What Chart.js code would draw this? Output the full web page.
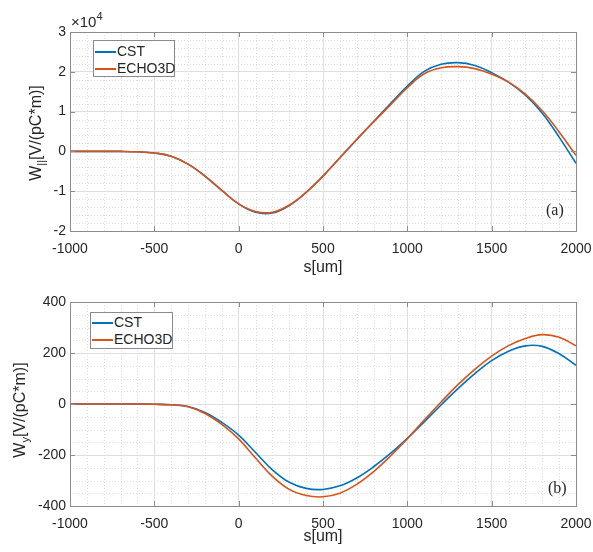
<!DOCTYPE html>
<html>
<head>
<meta charset="utf-8">
<script src="https://cdn.jsdelivr.net/npm/chart.js@4.4.0/dist/chart.umd.min.js"></script>
<style>
  body { margin: 0; background: #fff; }
  #wrap { position: relative; width: 593px; height: 552px; font-family: "Liberation Sans", Arial, sans-serif; color: #262626; }
  .panel { position: absolute; left: 0; width: 593px; height: 276px; }
  .ytitle { position: absolute; font-size: 16px; white-space: nowrap; transform: translate(-50%, -50%) rotate(-90deg); }
  .ytitle sub { font-size: 11px; vertical-align: -4px; }
  .xtitle { position: absolute; font-size: 16px; transform: translate(-50%, -50%); }
  .tag { position: absolute; font-family: "Liberation Serif", "Times New Roman", serif; font-size: 16px; }
  .expo { position: absolute; font-size: 15px; }
  .expo sup { font-size: 11px; vertical-align: 7px; }
  .legend { position: absolute; background: #fff; border: 1px solid #8a8a8a; font-size: 14px; }
  .legend .row { position: absolute; left: 1px; height: 16px; line-height: 16px; white-space: nowrap; }
  .legend .sw { display: inline-block; width: 21px; height: 2px; vertical-align: middle; margin-right: 1px; }
</style>
</head>
<body>
<div id="wrap">
  <div class="panel" style="top:0"><canvas id="chartTop" width="593" height="276"></canvas></div>
  <div class="panel" style="top:276px"><canvas id="chartBottom" width="593" height="276"></canvas></div>

  <div class="expo" style="left:71px;top:10px">&times;10<sup>4</sup></div>
  <div class="ytitle" style="left:37px;top:133px">W<sub>||</sub>[V/(pC*m)]</div>
  <div class="ytitle" style="left:21px;top:410px">W<sub>y</sub>[V/(pC*m)]</div>
  <div class="xtitle" style="left:323px;top:267px">s[um]</div>
  <div class="xtitle" style="left:323px;top:536px">s[um]</div>
  <div class="tag" style="left:546px;top:201px">(a)</div>
  <div class="tag" style="left:548px;top:479px">(b)</div>
  <div class="legend" id="legTop" style="left:93px;top:40px;width:80px;height:35px"></div>
  <div class="legend" id="legBottom" style="left:90px;top:312px;width:81px;height:35px"></div>
</div>

<script>
// s positions (um), shared by both panels
const sUm = [-1000, -900, -800, -700, -600, -500, -400, -300, -200, -100,
             0, 100, 200, 300, 400, 500, 600, 700, 800, 900,
             1000, 1100, 1200, 1300, 1400, 1500, 1600, 1700, 1800, 1900, 2000];

// (a) longitudinal wake W_|| [V/(pC*m)]
const wLongCST = [0, 0, 0, 0, -100, -400, -1200, -3200, -6200, -9800,
                  -13200, -15300, -15500, -13600, -10300, -6200, -1600, 3000, 7500, 12000,
                  16400, 20100, 21900, 22300, 21600, 19800, 17400, 14100, 9600, 3600, -3000];
const wLongECHO = [0, 0, 0, 0, -100, -400, -1200, -3200, -6200, -9800,
                   -13200, -15100, -15300, -13500, -10300, -6200, -1600, 3000, 7400, 11700,
                   16000, 19500, 21000, 21300, 20800, 19400, 17400, 14400, 10200, 4900, -1000];

// (b) transverse wake W_y [V/(pC*m)]
const wyCST = [0, 0, 0, 0, 0, -1, -3, -10, -33, -72,
               -122, -190, -258, -307, -331, -335, -321, -290, -246, -194,
               -135, -70, -4, 60, 119, 170, 207, 228, 226, 197, 152];
const wyECHO = [0, 0, 0, 0, 0, -1, -3, -11, -37, -80,
                -137, -212, -284, -335, -359, -364, -350, -315, -265, -204,
                -136, -63, 8, 76, 136, 188, 229, 257, 272, 262, 228];

const seriesNames = ['CST', 'ECHO3D'];
const seriesColors = ['#0072BD', '#D95319'];

// tick labels
const sTicks = [-1000, -500, 0, 500, 1000, 1500, 2000];
const wLongTicks = [-20000, -10000, 0, 10000, 20000, 30000];
const wyTicks = [-400, -200, 0, 200, 400];

const tickFont = { family: '"Liberation Sans", Arial, sans-serif', size: 14 };

// MATLAB-like look: dotted minor grid, box and inward tick marks
const matlabBox = {
  id: 'matlabBox',
  beforeDatasetsDraw(chart, args, opts) {
    const { ctx, chartArea: a, scales: { x, y } } = chart;
    ctx.save();
    ctx.strokeStyle = '#dedede';
    ctx.lineWidth = 1;
    ctx.setLineDash([1, 2]);
    for (let v = x.min; v <= x.max; v += opts.xMinor) {
      if (v % opts.xMajor === 0) continue;
      const px = Math.round(x.getPixelForValue(v)) + 0.5;
      ctx.beginPath(); ctx.moveTo(px, a.top); ctx.lineTo(px, a.bottom); ctx.stroke();
    }
    for (let v = y.min; v <= y.max; v += opts.yMinor) {
      if (v % opts.yMajor === 0) continue;
      const py = Math.round(y.getPixelForValue(v)) + 0.5;
      ctx.beginPath(); ctx.moveTo(a.left, py); ctx.lineTo(a.right, py); ctx.stroke();
    }
    ctx.restore();
  },
  afterDatasetsDraw(chart) {
    const { ctx, chartArea: a, scales: { x, y } } = chart;
    ctx.save();
    ctx.strokeStyle = '#8c8c8c';
    ctx.lineWidth = 1;
    ctx.strokeRect(Math.round(a.left) + 0.5, Math.round(a.top) + 0.5,
                   Math.round(a.right - a.left), Math.round(a.bottom - a.top));
    const len = 5;
    x.ticks.forEach(t => {
      const px = Math.round(x.getPixelForValue(t.value)) + 0.5;
      ctx.beginPath();
      ctx.moveTo(px, a.bottom); ctx.lineTo(px, a.bottom - len);
      ctx.moveTo(px, a.top); ctx.lineTo(px, a.top + len);
      ctx.stroke();
    });
    y.ticks.forEach(t => {
      const py = Math.round(y.getPixelForValue(t.value)) + 0.5;
      ctx.beginPath();
      ctx.moveTo(a.left, py); ctx.lineTo(a.left + len, py);
      ctx.moveTo(a.right, py); ctx.lineTo(a.right - len, py);
      ctx.stroke();
    });
    ctx.restore();
  }
};

function makePanel(canvasId, seriesList, yTicks, yLabel, padTop, xHeight, minor) {
  const datasets = seriesList.map((vals, i) => ({
    label: seriesNames[i],
    data: sUm.map((s, k) => ({ x: s, y: vals[k] })),
    borderColor: seriesColors[i],
    borderWidth: 1.6,
    pointRadius: 0,
    tension: 0.4,
    fill: false,
    order: i === 0 ? 1 : 0
  }));

  return new Chart(document.getElementById(canvasId).getContext('2d'), {
    type: 'line',
    data: { datasets },
    options: {
      responsive: false,
      animation: false,
      devicePixelRatio: 1,
      layout: { padding: { top: padTop, right: 17, left: 0, bottom: 0 } },
      plugins: {
        legend: { display: false },
        tooltip: { enabled: false },
        matlabBox: minor
      },
      scales: {
        x: {
          type: 'linear',
          min: sTicks[0],
          max: sTicks[sTicks.length - 1],
          afterBuildTicks: scale => { scale.ticks = sTicks.map(v => ({ value: v })); },
          afterFit: scale => { scale.height = xHeight; scale.paddingLeft = 0; scale.paddingRight = 0; },
          ticks: { color: '#262626', font: tickFont, padding: 10, maxRotation: 0, callback: v => String(v) },
          grid: { color: '#dedede', drawTicks: false },
          border: { display: false }
        },
        y: {
          type: 'linear',
          min: yTicks[0],
          max: yTicks[yTicks.length - 1],
          afterBuildTicks: scale => { scale.ticks = yTicks.map(v => ({ value: v })); },
          afterFit: scale => { scale.width = 70; scale.paddingTop = 0; scale.paddingBottom = 0; },
          ticks: { color: '#262626', font: tickFont, padding: 4, callback: yLabel },
          grid: { color: '#dedede', drawTicks: false },
          border: { display: false }
        }
      }
    },
    plugins: [matlabBox]
  });
}

makePanel('chartTop', [wLongCST, wLongECHO], wLongTicks, v => String(v / 10000), 32, 45,
          { xMinor: 100, xMajor: 500, yMinor: 2000, yMajor: 10000 });
makePanel('chartBottom', [wyCST, wyECHO], wyTicks, v => String(v), 26, 46,
          { xMinor: 100, xMajor: 500, yMinor: 50, yMajor: 200 });

// legends built from the series names/colours
function buildLegend(id, rowTops) {
  const box = document.getElementById(id);
  seriesNames.forEach((name, i) => {
    const row = document.createElement('div');
    row.className = 'row';
    row.style.top = rowTops[i] + 'px';
    row.innerHTML = '<span class="sw" style="background:' + seriesColors[i] + '"></span>' + name;
    box.appendChild(row);
  });
}
buildLegend('legTop', [2, 19]);
buildLegend('legBottom', [1, 18]);
</script>
</body>
</html>
